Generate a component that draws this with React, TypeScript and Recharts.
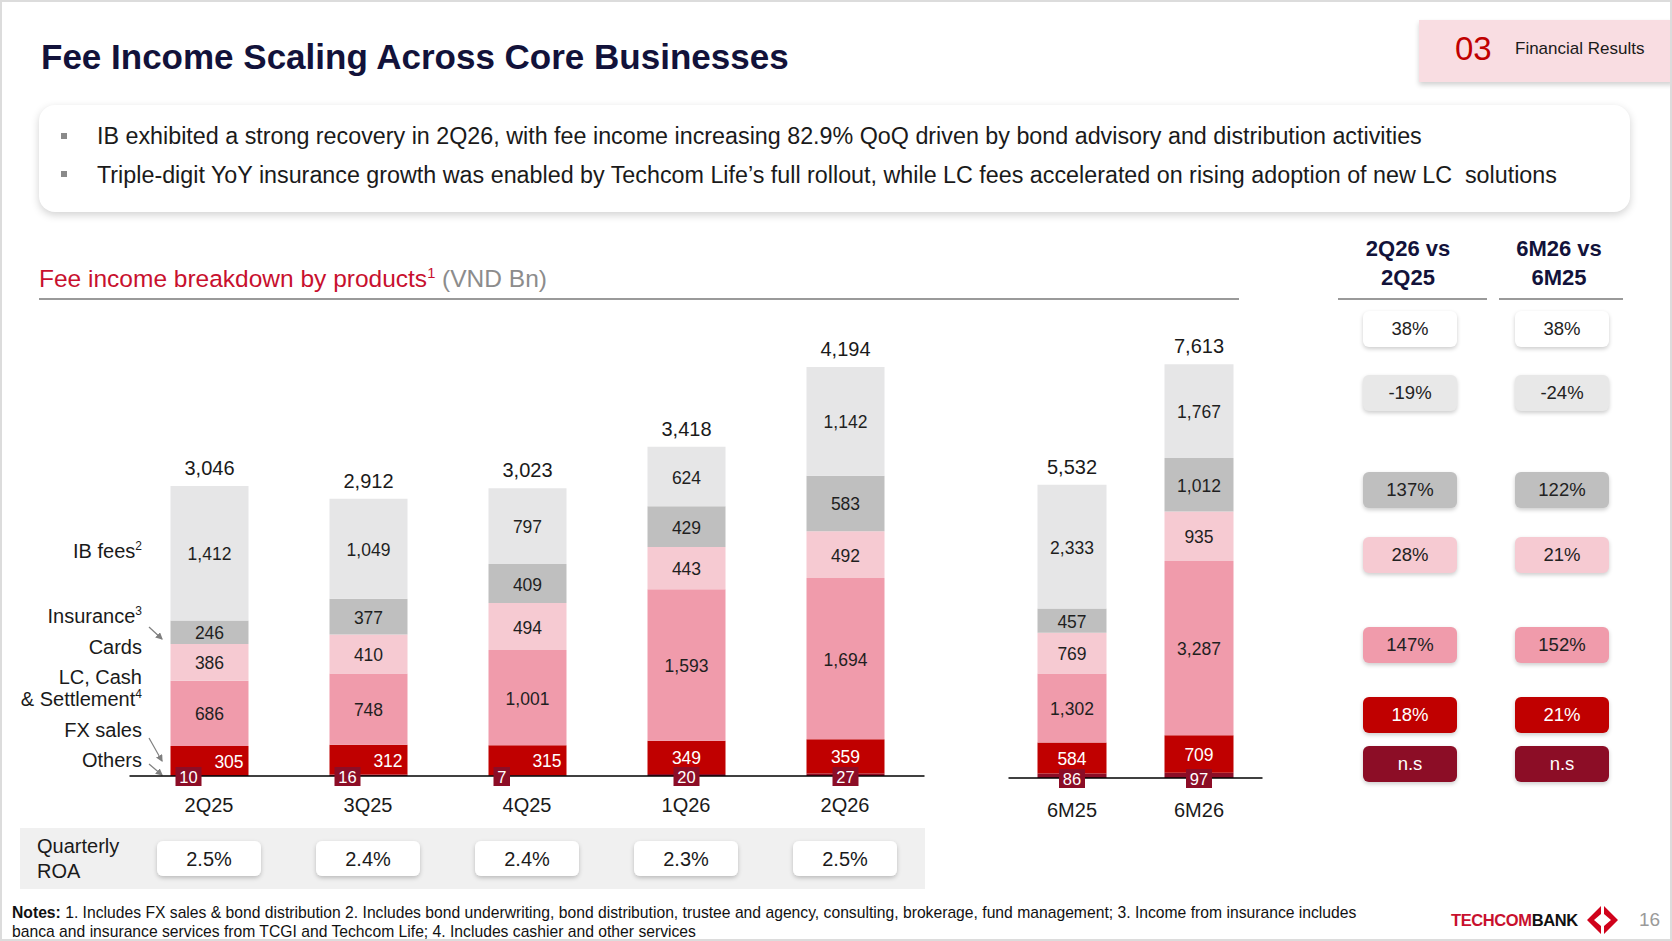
import React from 'react';
import { BarChart, Bar, XAxis, YAxis, LabelList } from 'recharts';

const quarters = ['2Q25', '3Q25', '4Q25', '1Q26', '2Q26'];
const qIbFees = [1412, 1049, 797, 624, 1142];
const qInsurance = [246, 377, 409, 429, 583];
const qCards = [386, 410, 494, 443, 492];
const qLcCash = [686, 748, 1001, 1593, 1694];
const qFxSales = [305, 312, 315, 349, 359];
const qOthers = [10, 16, 7, 20, 27];
const qTotals = [3046, 2912, 3023, 3418, 4194];
const qRoa = ['2.5%', '2.4%', '2.4%', '2.3%', '2.5%'];

const halves = ['6M25', '6M26'];
const hIbFees = [2333, 1767];
const hInsurance = [457, 1012];
const hCards = [769, 935];
const hLcCash = [1302, 3287];
const hFxSales = [584, 709];
const hOthers = [86, 97];
const hTotals = [5532, 7613];

const growthQuarter = ['38%', '-19%', '137%', '28%', '147%', '18%', 'n.s'];
const growthHalf = ['38%', '-24%', '122%', '21%', '152%', '21%', 'n.s'];

const FONT = 'Arial, "Liberation Sans", Helvetica, sans-serif';
const COL = {
  ib: '#E6E6E7',
  ins: '#BFBFBF',
  cards: '#F6CAD2',
  lc: '#F09BAB',
  fx: '#C00000',
  others: '#8C0D26',
};
const pillBg = ['#FFFFFF', '#E8E8E8', '#BFBFBF', '#F6CAD2', '#F09BAB', '#C00000', '#8C0D26'];
const pillFg = ['#222', '#222', '#222', '#222', '#222', '#fff', '#fff'];
const pillY = [327, 391, 488, 553, 643, 713, 762];

const fmt = (v: number) => v.toLocaleString('en-US');

const qData = quarters.map((name, i) => ({
  name,
  others: qOthers[i],
  fx: qFxSales[i],
  lc: qLcCash[i],
  cards: qCards[i],
  ins: qInsurance[i],
  ib: qIbFees[i],
}));
const hData = halves.map((name, i) => ({
  name,
  others: hOthers[i],
  fx: hFxSales[i],
  lc: hLcCash[i],
  cards: hCards[i],
  ins: hInsurance[i],
  ib: hIbFees[i],
}));

function box(p: any) {
  const vb = p.viewBox && p.viewBox.width != null ? p.viewBox : p;
  return { x: +vb.x, y: +vb.y, w: +vb.width, h: +vb.height };
}

function segLabel(cats: string[], vals: number[], color: string, sideFirst = 0) {
  return (p: any) => {
    const i = cats.indexOf(p.value);
    if (i < 0) return null;
    const { x, y, w, h } = box(p);
    const cx = i < sideFirst ? x + w * 0.75 : x + w / 2;
    return (
      <text x={cx} y={y + h / 2 + 1} textAnchor="middle" dominantBaseline="central" fontSize={17.5} fill={color} fontFamily={FONT}>
        {fmt(vals[i])}
      </text>
    );
  };
}

function othersLabel(cats: string[], vals: number[], sideFirst = 0) {
  return (p: any) => {
    const i = cats.indexOf(p.value);
    if (i < 0) return null;
    const { x, y, w, h } = box(p);
    const txt = String(vals[i]);
    const bw = txt.length * 9.5 + 7;
    const bx = i < sideFirst ? x + 5 : x + w / 2 - bw / 2;
    const base = y + h;
    return (
      <g>
        <rect x={bx} y={base - 9} width={bw} height={19} fill="#8C0D26" />
        <text x={bx + bw / 2} y={base + 1} textAnchor="middle" dominantBaseline="central" fontSize={16.5} fill="#fff" fontFamily={FONT}>
          {txt}
        </text>
      </g>
    );
  };
}

function totalLabel(cats: string[], vals: number[]) {
  return (p: any) => {
    const i = cats.indexOf(p.value);
    if (i < 0) return null;
    const { x, y, w } = box(p);
    return (
      <text x={x + w / 2} y={y - 18} textAnchor="middle" dominantBaseline="central" fontSize={20} fill="#1a1a1a" fontFamily={FONT}>
        {fmt(vals[i])}
      </text>
    );
  };
}

const QTick = (props: any) => {
  const { x, y, payload } = props;
  const i = quarters.indexOf(payload.value);
  return (
    <g>
      <text x={x} y={y + 29} textAnchor="middle" dominantBaseline="central" fontSize={20} fill="#1a1a1a" fontFamily={FONT}>
        {payload.value}
      </text>
      <rect x={x - 52} y={y + 65} width={104} height={35} rx={6} fill="#fff" filter="url(#pillShadow)" />
      <text x={x} y={y + 83} textAnchor="middle" dominantBaseline="central" fontSize={20} fill="#1a1a1a" fontFamily={FONT}>
        {qRoa[i]}
      </text>
    </g>
  );
};

const HTick = (props: any) => {
  const { x, y, payload } = props;
  return (
    <text x={x} y={y + 32} textAnchor="middle" dominantBaseline="central" fontSize={20} fill="#1a1a1a" fontFamily={FONT}>
      {payload.value}
    </text>
  );
};

function Bars(cats: string[], vals: {
  ib: number[]; ins: number[]; cards: number[]; lc: number[]; fx: number[]; others: number[]; totals: number[];
}, sideFirst: number) {
  return [
    <Bar key="others" dataKey="others" stackId="a" fill={COL.others} isAnimationActive={false}>
      <LabelList dataKey="name" content={othersLabel(cats, vals.others, sideFirst)} />
    </Bar>,
    <Bar key="fx" dataKey="fx" stackId="a" fill={COL.fx} isAnimationActive={false}>
      <LabelList dataKey="name" content={segLabel(cats, vals.fx, '#ffffff', sideFirst)} />
    </Bar>,
    <Bar key="lc" dataKey="lc" stackId="a" fill={COL.lc} isAnimationActive={false}>
      <LabelList dataKey="name" content={segLabel(cats, vals.lc, '#1f1f1f')} />
    </Bar>,
    <Bar key="cards" dataKey="cards" stackId="a" fill={COL.cards} isAnimationActive={false}>
      <LabelList dataKey="name" content={segLabel(cats, vals.cards, '#1f1f1f')} />
    </Bar>,
    <Bar key="ins" dataKey="ins" stackId="a" fill={COL.ins} isAnimationActive={false}>
      <LabelList dataKey="name" content={segLabel(cats, vals.ins, '#1f1f1f')} />
    </Bar>,
    <Bar key="ib" dataKey="ib" stackId="a" fill={COL.ib} isAnimationActive={false}>
      <LabelList dataKey="name" content={segLabel(cats, vals.ib, '#1f1f1f')} />
      <LabelList dataKey="name" content={totalLabel(cats, vals.totals)} />
    </Bar>,
  ];
}

const T = (props: {
  x: number; y: number; size: number; children: React.ReactNode; color?: string; bold?: boolean; align?: 'left' | 'center' | 'right'; style?: React.CSSProperties;
}) => {
  const { x, y, size, children, color = '#1a1a1a', bold, align = 'left', style } = props;
  const pos: React.CSSProperties =
    align === 'right'
      ? { right: 1672 - x, transform: 'translateY(-50%)' }
      : align === 'center'
      ? { left: x, transform: 'translate(-50%,-50%)' }
      : { left: x, transform: 'translateY(-50%)' };
  return (
    <div
      style={{
        position: 'absolute',
        top: y,
        ...pos,
        fontSize: size,
        lineHeight: 1.15,
        color,
        fontWeight: bold ? 700 : 400,
        whiteSpace: 'nowrap',
        textAlign: align,
        ...style,
      }}
    >
      {children}
    </div>
  );
};

const sup: React.CSSProperties = { fontSize: '0.6em', verticalAlign: 'super', lineHeight: 0 };

export default function App() {
  return (
    <div
      style={{
        position: 'absolute',
        left: 0,
        top: 0,
        width: 1672,
        height: 941,
        background: '#fff',
        fontFamily: FONT,
        overflow: 'hidden',
        boxSizing: 'border-box',
        border: '2px solid #dcdcdc',
      }}
    >
      <svg width={0} height={0} style={{ position: 'absolute' }}>
        <defs>
          <filter id="pillShadow" x="-20%" y="-30%" width="140%" height="170%">
            <feDropShadow dx="0" dy="2" stdDeviation="2" floodColor="#000" floodOpacity="0.22" />
          </filter>
        </defs>
      </svg>

      {/* Title */}
      <T x={39} y={55} size={35} bold color="#12123A">
        Fee Income Scaling Across Core Businesses
      </T>

      {/* Section tab */}
      <div
        style={{
          position: 'absolute',
          left: 1417,
          top: 18,
          width: 255,
          height: 62,
          background: '#F9DDE2',
          boxShadow: '0 3px 5px rgba(0,0,0,0.18)',
        }}
      />
      <T x={1453} y={47} size={33} color="#C00000">03</T>
      <T x={1513} y={47} size={17} color="#1a1a1a">Financial Results</T>

      {/* Bullet box */}
      <div
        style={{
          position: 'absolute',
          left: 37,
          top: 103,
          width: 1591,
          height: 107,
          background: '#fff',
          borderRadius: 16,
          boxShadow: '0 3px 8px rgba(0,0,0,0.18)',
        }}
      />
      <div style={{ position: 'absolute', left: 59, top: 131, width: 6, height: 6, background: '#8a8a8a' }} />
      <div style={{ position: 'absolute', left: 59, top: 169, width: 6, height: 6, background: '#8a8a8a' }} />
      <T x={95} y={134} size={23.3} color="#1a1a1a">
        IB exhibited a strong recovery in 2Q26, with fee income increasing 82.9% QoQ driven by bond advisory and distribution activities
      </T>
      <T x={95} y={173} size={23.3} color="#1a1a1a">
        Triple-digit YoY insurance growth was enabled by Techcom Life’s full rollout, while LC fees accelerated on rising adoption of new LC&nbsp; solutions
      </T>

      {/* Section heading */}
      <T x={37} y={277} size={24.5} color="#C8102E">
        Fee income breakdown by products<span style={sup}>1</span>
        <span style={{ color: '#8c8c8c' }}> (VND Bn)</span>
      </T>
      <div style={{ position: 'absolute', left: 37, top: 296, width: 1200, height: 2, background: '#9a9a9a' }} />

      {/* Growth headers */}
      <T x={1406} y={262} size={22} bold color="#12123A" align="center" style={{ lineHeight: 1.3 }}>
        2Q26 vs<br />2Q25
      </T>
      <T x={1557} y={262} size={22} bold color="#12123A" align="center" style={{ lineHeight: 1.3 }}>
        6M26 vs<br />6M25
      </T>
      <div style={{ position: 'absolute', left: 1336, top: 296, width: 149, height: 2, background: '#9a9a9a' }} />
      <div style={{ position: 'absolute', left: 1497, top: 296, width: 124, height: 2, background: '#9a9a9a' }} />

      {growthQuarter.map((g, i) => (
        <div
          key={'gq' + i}
          style={{
            position: 'absolute',
            left: 1361,
            top: pillY[i] - 18,
            width: 94,
            height: 36,
            borderRadius: 6,
            background: pillBg[i],
            boxShadow: '0 2px 4px rgba(0,0,0,0.2)',
            display: 'flex',
            alignItems: 'center',
            justifyContent: 'center',
            fontSize: 18.5,
            color: pillFg[i],
          }}
        >
          {g}
        </div>
      ))}
      {growthHalf.map((g, i) => (
        <div
          key={'gh' + i}
          style={{
            position: 'absolute',
            left: 1513,
            top: pillY[i] - 18,
            width: 94,
            height: 36,
            borderRadius: 6,
            background: pillBg[i],
            boxShadow: '0 2px 4px rgba(0,0,0,0.2)',
            display: 'flex',
            alignItems: 'center',
            justifyContent: 'center',
            fontSize: 18.5,
            color: pillFg[i],
          }}
        >
          {g}
        </div>
      ))}

      {/* ROA panel background */}
      <div style={{ position: 'absolute', left: 18, top: 826, width: 905, height: 61, background: '#F0F0F0' }} />
      <T x={35} y={857} size={20} color="#1a1a1a" style={{ lineHeight: 1.25 }}>
        Quarterly<br />ROA
      </T>

      {/* Left legend labels */}
      <T x={144} y={549} size={20} align="right">IB fees<span style={sup}>2</span></T>
      <T x={144} y={614} size={20} align="right">Insurance<span style={sup}>3</span></T>
      <T x={144} y={645} size={20} align="right">Cards</T>
      <T x={144} y={686} size={20} align="right" style={{ lineHeight: 1.1 }}>
        LC, Cash<br />&amp; Settlement<span style={sup}>4</span>
      </T>
      <T x={144} y={728} size={20} align="right">FX sales</T>
      <T x={144} y={758} size={20} align="right">Others</T>
      <svg width={180} height={200} style={{ position: 'absolute', left: 0, top: 600 }}>
        <defs>
          <marker id="arr" markerWidth="6" markerHeight="6" refX="5" refY="3" orient="auto">
            <path d="M0,0 L6,3 L0,6 z" fill="#7f7f7f" />
          </marker>
        </defs>
        <line x1={147} y1={25} x2={160} y2={37} stroke="#7f7f7f" strokeWidth={1.2} markerEnd="url(#arr)" />
        <line x1={147} y1={136} x2={160} y2={159} stroke="#7f7f7f" strokeWidth={1.2} markerEnd="url(#arr)" />
        <line x1={147} y1={162} x2={160} y2={173} stroke="#7f7f7f" strokeWidth={1.2} markerEnd="url(#arr)" />
      </svg>

      {/* Quarterly chart */}
      <div style={{ position: 'absolute', left: 0, top: 300 }}>
        <BarChart
          width={940}
          height={594}
          data={qData}
          margin={{ top: 45.6, right: 17.5, bottom: 0, left: 127.5 }}
          barSize={78}
        >
          <YAxis hide domain={[0, 4500]} allowDataOverflow />
          <XAxis
            dataKey="name"
            height={120}
            axisLine={{ stroke: '#000', strokeWidth: 1.5 }}
            tickLine={false}
            tickSize={0}
            tickMargin={0}
            interval={0}
            tick={(p: any) => <QTick {...p} />}
          />
          {Bars(quarters, {
            ib: qIbFees, ins: qInsurance, cards: qCards, lc: qLcCash, fx: qFxSales, others: qOthers, totals: qTotals,
          }, 3)}
        </BarChart>
      </div>

      {/* Half-year chart */}
      <div style={{ position: 'absolute', left: 950, top: 300 }}>
        <BarChart
          width={330}
          height={536}
          data={hData}
          margin={{ top: 52, right: 19.5, bottom: 0, left: 56.5 }}
          barSize={69}
        >
          <YAxis hide domain={[0, 8000]} allowDataOverflow />
          <XAxis
            dataKey="name"
            height={60}
            axisLine={{ stroke: '#000', strokeWidth: 1.5 }}
            tickLine={false}
            tickSize={0}
            tickMargin={0}
            interval={0}
            tick={(p: any) => <HTick {...p} />}
          />
          {Bars(halves, {
            ib: hIbFees, ins: hInsurance, cards: hCards, lc: hLcCash, fx: hFxSales, others: hOthers, totals: hTotals,
          }, 0)}
        </BarChart>
      </div>

      {/* Notes */}
      <div style={{ position: 'absolute', left: 10, top: 902, fontSize: 15.7, lineHeight: '18.5px', color: '#111', whiteSpace: 'nowrap' }}>
        <b>Notes:</b> 1. Includes FX sales &amp; bond distribution 2. Includes bond underwriting, bond distribution, trustee and agency, consulting, brokerage, fund management; 3. Income from insurance includes
        <br />
        banca and insurance services from TCGI and Techcom Life; 4. Includes cashier and other services
      </div>

      {/* Logo */}
      <T x={1449} y={918} size={16.5} bold color="#C8102E" style={{ letterSpacing: -0.4 }}>
        TECHCOM<span style={{ color: '#111' }}>BANK</span>
      </T>
      <svg width={32} height={30} style={{ position: 'absolute', left: 1585, top: 904 }}>
        <polygon points="14,0 0,14 14,28 14,20 7,14 14,8" fill="#D0021B" />
        <polygon points="17,0 31,14 17,28 17,20 24,14 17,8" fill="#D0021B" />
      </svg>
      <T x={1637} y={918} size={19} color="#9a9a9a">16</T>
    </div>
  );
}
